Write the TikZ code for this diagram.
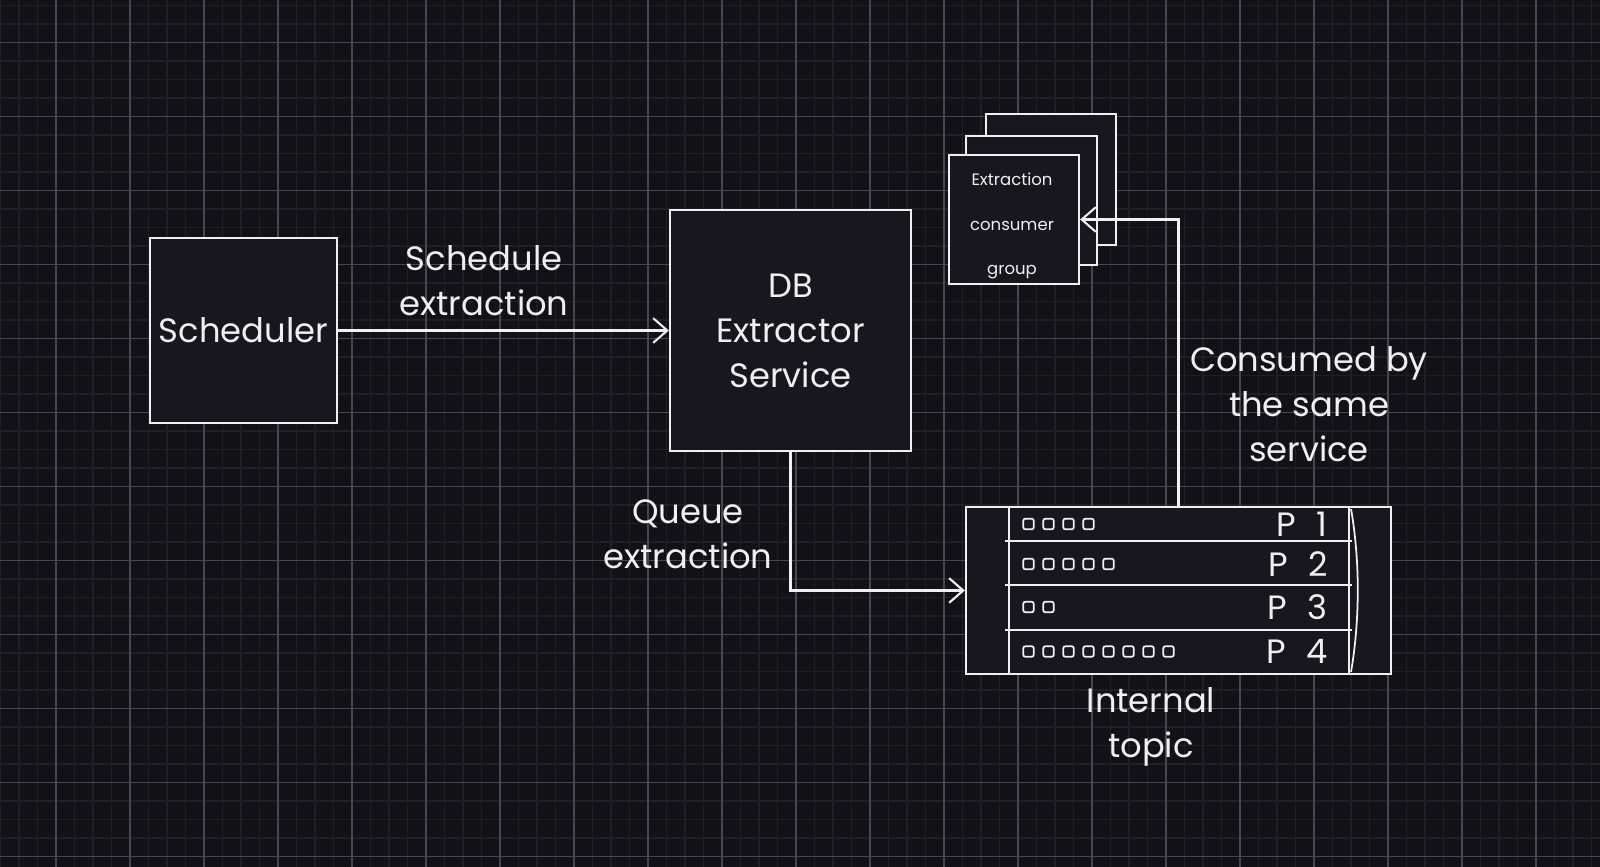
\documentclass[tikz,border=0pt]{standalone}
\usepackage{fontspec}
\setmainfont{Poppins}
\usetikzlibrary{arrows.meta,calc}

\definecolor{bgdark}{RGB}{19,17,24}
\definecolor{boxdark}{RGB}{25,22,31}
\definecolor{gridminor}{RGB}{32,30,39}
\definecolor{gridmajor}{RGB}{72,70,80}
\definecolor{chalk}{RGB}{240,240,240}

\begin{document}
\begin{tikzpicture}[x=0.01cm,y=-0.01cm]
\tikzset{box/.style = {shape=rectangle,draw=chalk,fill=boxdark,line width=0.6pt,inner sep=0pt}}
\tikzset{txt/.style = {text=chalk,align=center,font=\fontsize{9.6}{12.8}\selectfont}}
\tikzset{cell/.style = {shape=rectangle,draw=chalk,line width=0.5pt,rounded corners=0.6pt,minimum size=0.105cm,inner sep=0pt}}
\tikzset{arr/.style = {draw=chalk,line width=0.6pt,-{Straight Barb[length=4pt,width=7pt]}}}

% background and grid
\fill[bgdark] (0,0) rectangle (1600,867);
\useasboundingbox (0,0) rectangle (1600,867);
\foreach \i in {0,...,86}
\draw[gridminor,line width=0.4pt] ({0.5+18.5*\i},0) -- ({0.5+18.5*\i},867);
\foreach \j in {0,...,46}
\draw[gridminor,line width=0.4pt] (0,{5.3+18.5*\j}) -- (1600,{5.3+18.5*\j});
\foreach \i in {0,...,20}
\draw[gridmajor,line width=0.35pt] ({56+74*\i},0) -- ({56+74*\i},867);
\foreach \j in {0,...,11}
\draw[gridmajor,line width=0.35pt] (0,{42.3+74*\j}) -- (1600,{42.3+74*\j});

% services
\node[box,minimum width=1.87cm,minimum height=1.85cm] (sched) at (243.5,330.5) {};
\node[txt] (schedtxt) at (sched) {Scheduler};
\node[box,minimum width=2.41cm,minimum height=2.41cm] (dbx) at (790.5,330.5) {};
\node[txt] (dbxtxt) at (dbx) {DB\\Extractor\\Service};

% consumer group stack
\node[box,minimum width=1.30cm,minimum height=1.31cm] (back) at (1051,179.5) {};
\node[box,minimum width=1.31cm,minimum height=1.29cm] (mid) at (1031.5,200.5) {};
\node[box,minimum width=1.30cm,minimum height=1.29cm] (front) at (1014,219.5) {};
\node[text=chalk,align=center,font=\fontsize{4.7}{12.6}\selectfont] (fronttxt) at (1012,226) {Extraction\\consumer\\group};

% internal topic
\node[box,minimum width=4.25cm,minimum height=1.67cm] (topic) at (1178.5,590.5) {};
\draw[chalk,line width=0.6pt] (1009,507) -- (1009,674);
\draw[chalk,line width=0.6pt] (1349,507) -- (1349,674);
\draw[chalk,line width=0.5pt] (1351,509) .. controls (1360,560) and (1360,620) .. (1351,672);
\foreach \y in {541,585,630}
\draw[chalk,line width=0.6pt] (1005,\y) -- (1352,\y);
\foreach \row/\n/\y in {1/4/524,2/5/564,3/2/607,4/8/651.5}{
\foreach \k in {1,...,\n}
\node[cell] (c\row-\k) at ({1008.5+20*\k},\y) {};
\node[txt,anchor=east] (p\row) at (1340,\y) {P\hspace{0.6em}\row};
}
\node[txt] (topictxt) at (1151,727) {Internal\\topic};

% connectors
\draw[arr] (sched) -- (dbx);
\draw[arr] (dbx.south) |- (topic.west);
\draw[arr] (topic.north) |- (front.east);

% labels
\node[txt] (lsched) at (484,281) {Schedule\\extraction};
\node[txt] (lqueue) at (688,534) {Queue\\extraction};
\node[txt] (lcons) at (1309,404) {Consumed by\\the same\\service};

\end{tikzpicture}
\end{document}
